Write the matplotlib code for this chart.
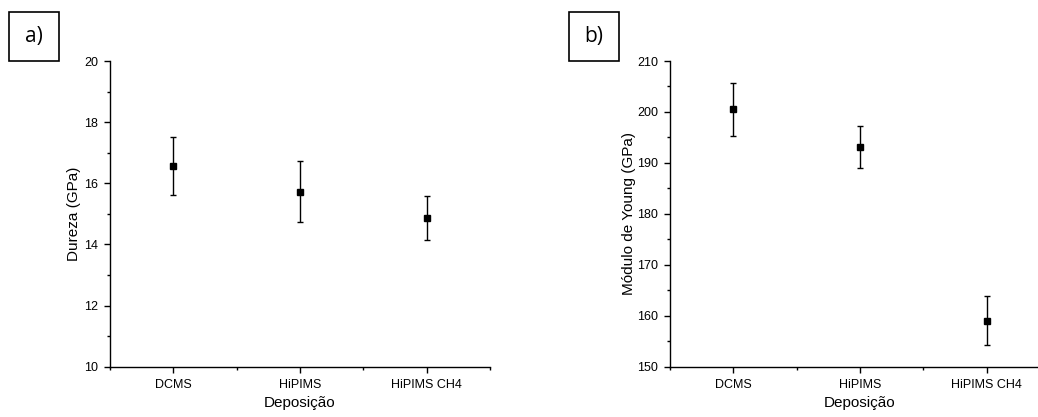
import matplotlib
matplotlib.use("Agg")
import matplotlib.pyplot as plt
from matplotlib.ticker import MultipleLocator, FixedLocator

plt.rcParams['font.family'] = ['Liberation Sans', 'DejaVu Sans']

categories = ["DCMS", "HiPIMS", "HiPIMS CH4"]
hardness = [16.57, 15.73, 14.86]
hardness_err = [0.94, 1.00, 0.72]
modulus = [200.5, 193.1, 159.05]
modulus_err = [5.2, 4.15, 4.75]

W, H = 1038, 417
fig = plt.figure(figsize=(W / 100, H / 100), dpi=100)

def px_axes(x0, y0, x1, y1):
    return fig.add_axes([x0 / W, 1 - y1 / H, (x1 - x0) / W, (y1 - y0) / H])

def style(ax, ylim, major, minor, ylabel, ylabelpad):
    xs = list(range(1, len(categories) + 1))
    ax.set_xlim(0.5, len(categories) + 0.5)
    ax.set_ylim(*ylim)
    ax.xaxis.set_major_locator(FixedLocator(xs))
    ax.set_xticklabels(categories)
    ax.xaxis.set_minor_locator(FixedLocator([x + 0.5 for x in [0] + xs]))
    ax.yaxis.set_major_locator(MultipleLocator(major))
    ax.yaxis.set_minor_locator(MultipleLocator(minor))
    for s in ("top", "right"):
        ax.spines[s].set_visible(False)
    for s in ("left", "bottom"):
        ax.spines[s].set_linewidth(1.0)
    ax.tick_params(which="major", direction="out", length=4.5, width=1.0,
                   labelsize=9, pad=4)
    ax.tick_params(which="minor", direction="out", length=2.5, width=1.0)
    ax.set_xlabel("Deposição", fontsize=11, labelpad=4)
    ax.set_ylabel(ylabel, fontsize=11, labelpad=ylabelpad)
    return xs

ax1 = px_axes(110, 61, 490, 366.7)
xs = style(ax1, (10, 20), 2, 1, "Dureza (GPa)", 2)
ax1.errorbar(xs, hardness, yerr=hardness_err, fmt="s", color="black",
             markersize=5, capsize=2.5, elinewidth=1.0, capthick=1.0)

ax2 = px_axes(670, 61, 1050, 366.7)
xs = style(ax2, (150, 210), 10, 5, "Módulo de Young (GPa)", 1)
ax2.errorbar(xs, modulus, yerr=modulus_err, fmt="s", color="black",
             markersize=5, capsize=2.5, elinewidth=1.0, capthick=1.0)

def label_box(x0, y0, x1, y1, txt):
    fig.patches.append(plt.Rectangle((x0 / W, 1 - y1 / H), (x1 - x0) / W,
                                     (y1 - y0) / H, transform=fig.transFigure,
                                     fill=False, edgecolor="black", linewidth=1.2))
    fig.text((x0 + x1) / 2 / W, 1 - (y0 + y1) / 2 / H, txt, ha="center",
             va="center", fontsize=15, family=["Open Sans", "DejaVu Sans"])

label_box(9, 12, 59, 61, "a)")
label_box(569, 12, 619, 61, "b)")

fig.savefig("out.png", dpi=100, facecolor="white")
